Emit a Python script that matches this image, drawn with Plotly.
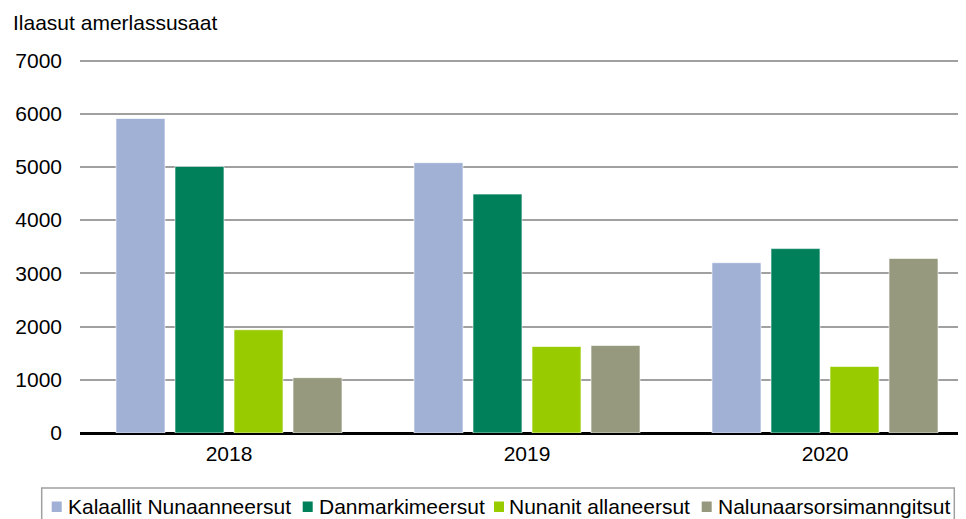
import plotly.graph_objects as go

years = ["2018", "2019", "2020"]
series_names = ["Kalaallit Nunaanneersut", "Danmarkimeersut", "Nunanit allaneersut", "Nalunaarsorsimanngitsut"]
kalaallit = [5910, 5080, 3200]
danmark = [5010, 4490, 3465]
nunanit = [1940, 1625, 1250]
nalunaar = [1040, 1645, 3280]
colors = ["#A0B1D5", "#00805A", "#99CC00", "#97997E"]
y_ticks = [0, 1000, 2000, 3000, 4000, 5000, 6000, 7000]
y_title = "Ilaasut amerlassusaat"

W, H = 966, 519
ML, MR, MT, MB = 72, 0, 51, 94
PW, PH = W - ML - MR, H - MT - MB
OFF = 8  # page body margin
YMAX = 7000 * (PH / (PH - 1.5))


def px(xp):
    return (xp - OFF - ML) / PW


def py(yp):
    return (H - MB - (yp - OFF)) / PH


FONT = "Liberation Sans, Arial, sans-serif"
FS = 21

fig = go.Figure()
for name, vals, col in zip(series_names, [kalaallit, danmark, nunanit, nalunaar], colors):
    fig.add_trace(go.Bar(x=years, y=vals, name=name, showlegend=False,
                         marker=dict(color=col, line=dict(color="rgba(255,255,255,0.6)", width=1))))

shapes = [dict(type="rect", xref="paper", yref="paper", x0=px(41.7), x1=px(954.3), y0=py(488), y1=py(540),
               line=dict(color="#A0A0A0", width=1.5), fillcolor="rgba(0,0,0,0)", layer="above")]
annotations = [dict(text=y_title, xref="paper", yref="paper", x=px(11), y=py(22), xanchor="left", yanchor="middle",
                    showarrow=False, font=dict(size=FS, family=FONT, color="black"))]
sq_x = [51.7, 302.7, 494.0, 701.7]
tx_x = [66.3, 317.3, 507.3, 716.3]
for name, col, sx, tx in zip(series_names, colors, sq_x, tx_x):
    shapes.append(dict(type="rect", xref="paper", yref="paper", x0=px(sx), x1=px(sx + 10), y0=py(512), y1=py(501.5),
                       line=dict(width=0), fillcolor=col, layer="above"))
    annotations.append(dict(text=name, xref="paper", yref="paper", x=px(tx), y=py(506.5), xanchor="left",
                            yanchor="middle", showarrow=False, font=dict(size=FS, family=FONT, color="black")))

fig.update_layout(
    width=W, height=H,
    paper_bgcolor="white", plot_bgcolor="white",
    margin=dict(l=ML, r=MR, t=MT, b=MB),
    barmode="group", bargap=0.208, bargroupgap=0.17,
    font=dict(family=FONT, size=FS, color="black"),
    xaxis=dict(range=[-0.5, 2.5], showgrid=False, showline=False, ticks="", ticklabelstandoff=6,
               tickfont=dict(size=FS)),
    yaxis=dict(range=[0, YMAX], tickvals=y_ticks, showgrid=True, gridcolor="#A0A0A0", gridwidth=2,
               zeroline=True, zerolinecolor="black", zerolinewidth=2.5, ticks="", ticklabelstandoff=17,
               tickfont=dict(size=FS), automargin=False),
    showlegend=False,
    shapes=shapes,
    annotations=annotations,
)
fig.write_html("out.html")
